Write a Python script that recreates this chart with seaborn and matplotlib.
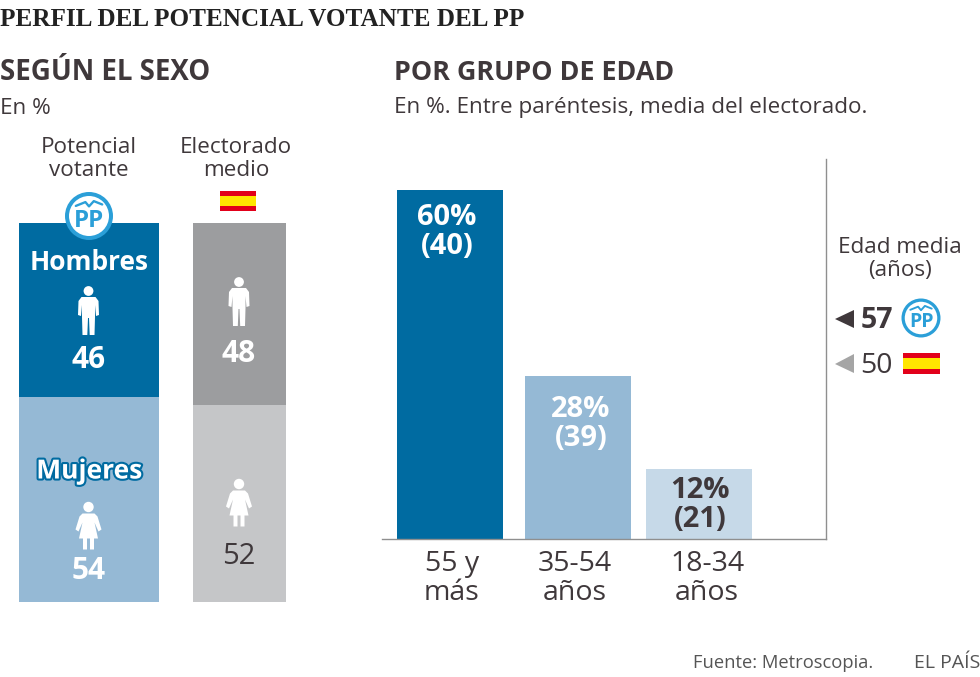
import matplotlib
matplotlib.use("Agg")
import matplotlib.pyplot as plt
import matplotlib.patheffects as pe
from matplotlib.patches import Circle, Polygon, Rectangle
import pandas as pd
import seaborn as sns

sexes = ["Hombres", "Mujeres"]
pp_sex = [46, 54]
es_sex = [48, 52]
age_groups = ["55 y\nmás", "35-54\naños", "18-34\naños"]
pp_age = [60, 28, 12]
es_age = [40, 39, 21]
mean_age_pp = 57
mean_age_es = 50

DARK = "#3f383b"
BLUE = "#006ba1"
LIGHT = "#95b9d5"
PALE = "#c6d9e8"
GREY = "#9c9d9f"
LGREY = "#c5c6c8"
LOGO = "#2b9fd8"
FONT = "Open Sans"

sns.set_theme(style="white")
plt.rcParams["font.family"] = [FONT, "DejaVu Sans"]

W, H = 980, 677
fig = plt.figure(figsize=(W / 100, H / 100), dpi=100, facecolor="white")


def px_axes(left, top, right, bottom):
    return fig.add_axes([left / W, 1 - bottom / H, (right - left) / W, (bottom - top) / H])


def stacked(box, shares, colors):
    ax = px_axes(*box)
    df = pd.DataFrame({"sexo": sexes, "valor": shares})
    # mujeres abajo, hombres encima
    sns.barplot(data=df[df.sexo == "Mujeres"], x="sexo", y="valor", color=colors[1],
                width=1, saturation=1, linewidth=0, ax=ax)
    sns.barplot(data=df[df.sexo == "Hombres"].assign(sexo="Mujeres"), x="sexo", y="valor",
                color=colors[0], width=1, saturation=1, linewidth=0, bottom=shares[1], ax=ax)
    ax.set_xlim(-0.5, 0.5)
    ax.set_ylim(0, 100)
    ax.axis("off")
    return ax


stacked((18.5, 223, 159, 602), pp_sex, (BLUE, LIGHT))
stacked((193, 223, 286, 602), es_sex, (GREY, LGREY))

# edades
ax = px_axes(382, 159, 826, 539)
age_df = pd.DataFrame({"edad": age_groups, "pct": pp_age})
sns.barplot(data=age_df, x="edad", y="pct", hue="edad", palette=[BLUE, LIGHT, PALE],
            width=0.851, saturation=1, linewidth=0, legend=False, ax=ax)
ax.set_xlim(-0.546, 3.02)
ax.set_ylim(0, 65.3)
ax.patches[1].set_x(ax.patches[1].get_x() + 0.028)
ax.set_xlabel("")
ax.set_ylabel("")
ax.set_yticks([])
ax.set_xticks([0.015, 1, 2.065])
ax.set_xticklabels(age_groups, fontsize=20.5, color=DARK, linespacing=1.06)
ax.tick_params(axis="x", length=0, pad=8)
sns.despine(ax=ax, top=True, left=True, right=False, bottom=False)
for side in ("right", "bottom"):
    ax.spines[side].set_color("#8f8f8f")
    ax.spines[side].set_linewidth(1)

# capa en pixeles para textos e iconos
ov = fig.add_axes([0, 0, 1, 1], facecolor="none")
ov.set_xlim(0, W)
ov.set_ylim(H, 0)
ov.axis("off")


def txt(x, y, s, size=15, weight="normal", color=DARK, ha="center", va="center", **kw):
    return ov.text(x, y, s, fontsize=size, fontweight=weight, color=color, ha=ha, va=va, **kw)


def man(cx, head_y, color="white"):
    ov.add_patch(Circle((cx, head_y), 4.9, fc=color, ec="none"))
    t = head_y + 6
    pts = [(-7, 0), (7, 0), (10, 4), (10.5, 18), (7.5, 19), (6.5, 8), (6.5, 20), (6, 38), (1.2, 38),
           (0.5, 21), (-0.5, 21), (-1.2, 38), (-6, 38), (-6.5, 20), (-6.5, 8), (-7.5, 19), (-10.5, 18),
           (-10, 4)]
    ov.add_patch(Polygon([(cx + a, t + b) for a, b in pts], fc=color, ec="none"))


def woman(cx, head_y, color="white"):
    ov.add_patch(Circle((cx, head_y), 5.2, fc=color, ec="none"))
    t = head_y + 6.5
    pts = [(-6, 0), (6, 0), (9, 3), (13, 16), (10, 18), (6, 9), (9.5, 25), (5.5, 25), (5.5, 36), (1.5, 36),
           (1.5, 25), (-1.5, 25), (-1.5, 36), (-5.5, 36), (-5.5, 25), (-9.5, 25), (-6, 9), (-10, 18), (-13, 16),
           (-9, 3)]
    ov.add_patch(Polygon([(cx + a, t + b) for a, b in pts], fc=color, ec="none"))


def flag(x0, y0, w, h):
    ov.add_patch(Rectangle((x0, y0), w, h, fc="#e2001a", ec="none"))
    ov.add_patch(Rectangle((x0, y0 + h * 0.25), w, h * 0.5, fc="#ffe600", ec="none"))


def logo(cx, cy, r):
    # r es el radio exterior, el aro ocupa un sexto
    ring = r / 6
    ov.add_patch(Circle((cx, cy), r - ring / 2, fc="white", ec=LOGO, lw=ring * 0.72, zorder=3))
    ov.text(cx, cy + r * 0.2, "PP", fontsize=r * 0.72, fontweight="bold", color=LOGO,
            ha="center", va="center", zorder=4)
    xs = [cx - r * 0.55, cx - r * 0.15, cx, cx + r * 0.2, cx + r * 0.55]
    ys = [cy - r * 0.42, cy - r * 0.58, cy - r * 0.4, cy - r * 0.62, cy - r * 0.48]
    ov.plot(xs, ys, color=LOGO, lw=r * 0.07, zorder=4)


# titulos
txt(0, 19, "PERFIL DEL POTENCIAL VOTANTE DEL PP", size=18.1, weight="bold", color="#222222", ha="left",
    family="Liberation Serif")
txt(0, 73, "SEGÚN EL SEXO", size=19.9, weight="bold", ha="left")
txt(394, 73, "POR GRUPO DE EDAD", size=19.4, weight="bold", ha="left")
txt(0, 108, "En %", size=16.2, ha="left")
txt(394, 108, "En %. Entre paréntesis, media del electorado.", size=16.2, ha="left")
txt(89, 159, "Potencial\nvotante", size=16.2, linespacing=1.18)
txt(236, 159, "Electorado\nmedio", size=16.2, linespacing=1.18)

logo(89, 216, 24)
flag(220, 191, 36, 20)

# panel sexo
txt(89, 263, sexes[0], size=19, weight="bold", color="white")
man(88.5, 291)
txt(89, 360, str(pp_sex[0]), size=21.5, weight="bold", color="white")
t = txt(89, 471, sexes[1], size=19, weight="bold", color="white")
t.set_path_effects([pe.withStroke(linewidth=3, foreground=BLUE)])
woman(88.5, 507)
txt(89, 571, str(pp_sex[1]), size=21.5, weight="bold", color="white")

man(239, 282)
txt(239, 354, str(es_sex[0]), size=21.5, weight="bold", color="white")
woman(239, 484)
txt(239, 556, str(es_sex[1]), size=21)

# valores de edad
label_xy = [(447, 232, "white"), (581, 424, "white"), (700, 505, DARK)]
for (x, y, c), a, b in zip(label_xy, pp_age, es_age):
    txt(x, y, f"{a}%\n({b})", size=21, weight="bold", color=c, linespacing=1.04)

# edad media
txt(900, 259, "Edad media\n(años)", size=16.2, linespacing=1.18)
ov.add_patch(Polygon([(835, 319), (854, 310), (854, 328)], fc=DARK, ec="none"))
txt(861, 321, str(mean_age_pp), size=20.5, weight="bold", ha="left")
logo(921, 318, 19.5)
ov.add_patch(Polygon([(835, 364), (854, 354), (854, 373)], fc="#a5a5a5", ec="none"))
txt(860, 366, str(mean_age_es), size=20.5, ha="left")
flag(903, 353, 37, 21)

# pie
txt(693, 663, "Fuente: Metroscopia.", size=13.2, ha="left", color="#555555")
txt(980, 663, "EL PAÍS", size=14, ha="right", color="#555555")

fig.savefig("out.png", dpi=100, facecolor="white")
